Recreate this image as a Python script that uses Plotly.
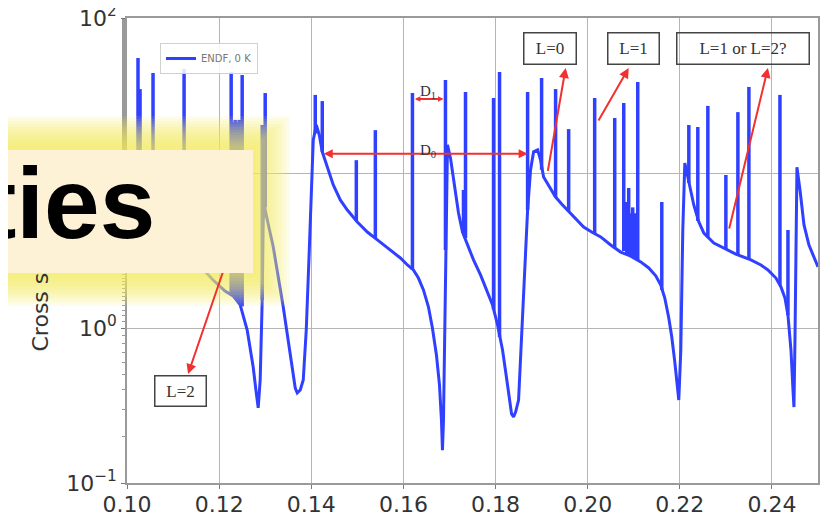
import math
import plotly.graph_objects as go

# ---------------- data (energy in MeV, cross section in b) ----------------
base_energy = [0.1000, 0.10391, 0.10826, 0.11261, 0.11587, 0.11870, 0.12130, 0.12304, 0.12457,
               0.12609, 0.12739, 0.12804, 0.12848, 0.12891, 0.12935, 0.12957, 0.12978, 0.13022,
               0.13174, 0.13391, 0.13543, 0.13652, 0.13696, 0.13761, 0.13826, 0.13891, 0.13957,
               0.14000, 0.14043, 0.14109, 0.14174, 0.14239, 0.14348, 0.14478, 0.14630, 0.14783,
               0.15000, 0.15217, 0.15435, 0.15717, 0.15935, 0.16087, 0.16217, 0.16326, 0.16435,
               0.16543, 0.16630, 0.16717, 0.16783, 0.16826, 0.16848, 0.16870, 0.16891, 0.16913,
               0.16935, 0.16957, 0.17022, 0.17109, 0.17196, 0.17283, 0.17413, 0.17522, 0.17674,
               0.17826, 0.17935, 0.18043, 0.18152, 0.18239, 0.18304, 0.18348, 0.18391, 0.18435,
               0.18500, 0.18565, 0.18630, 0.18696, 0.18761, 0.18826, 0.18913, 0.18978, 0.19043,
               0.19174, 0.19304, 0.19435, 0.19565, 0.19739, 0.19913, 0.20087, 0.20283, 0.20500,
               0.20717, 0.20935, 0.21152, 0.21326, 0.21478, 0.21587, 0.21674, 0.21761, 0.21826,
               0.21891, 0.21935, 0.21978, 0.22022, 0.22065, 0.22109, 0.22196, 0.22304, 0.22413,
               0.22522, 0.22739, 0.22957, 0.23217, 0.23543, 0.23761, 0.23913, 0.24087, 0.24196,
               0.24283, 0.24348, 0.24413, 0.24457, 0.24478, 0.24500, 0.24522, 0.24543, 0.24609,
               0.24696, 0.24804, 0.24913, 0.25000]
base_xs = [8.37, 6.22, 4.42, 3.09, 2.51, 2.04, 1.73, 1.61, 1.41,
           0.971, 0.560, 0.386, 0.305, 0.462, 1.52, 4.83, 6.22, 5.36,
           3.33, 1.37, 0.690, 0.410, 0.381, 0.398, 0.462, 0.971, 3.19,
           7.77, 16.3, 20.4, 17.6, 13.7, 10.8, 8.37, 6.70, 5.77,
           4.83, 4.16, 3.70, 3.19, 2.83, 2.55, 2.37, 2.10, 1.76,
           1.37, 1.00, 0.670, 0.429, 0.255, 0.163, 0.255, 0.721, 3.19,
           9.01, 15.2, 12.5, 8.37, 5.52, 4.16, 3.28, 2.75, 2.20,
           1.71, 1.41, 1.05, 0.721, 0.476, 0.343, 0.279, 0.267, 0.287,
           0.343, 0.837, 2.37, 5.77, 10.5, 13.7, 14.1, 12.1, 9.42,
           8.12, 7.00, 6.31, 5.77, 5.13, 4.48, 4.16, 3.87, 3.43,
           3.09, 2.91, 2.67, 2.44, 2.17, 1.89, 1.56, 1.16, 0.875,
           0.604, 0.429, 0.343, 0.721, 4.29, 11.6, 8.62, 6.22, 4.83,
           4.10, 3.53, 3.28, 3.00, 2.75, 2.55, 2.37, 2.10, 1.84,
           1.56, 1.21, 0.721, 0.398, 0.309, 0.837, 4.29, 10.9, 7.77,
           4.62, 3.43, 2.83, 2.48]

spike_energy = [0.10239, 0.10283, 0.10565, 0.11239, 0.12261, 0.12304, 0.12348, 0.12391, 0.12435,
                0.12500, 0.12935, 0.13000, 0.14087, 0.14239, 0.14978, 0.15391, 0.16196, 0.16913,
                0.17304, 0.17348, 0.17957, 0.18087, 0.18696, 0.19000, 0.19304, 0.19587, 0.20152,
                0.20587, 0.20783, 0.20848, 0.20891, 0.20935, 0.20978, 0.21022, 0.21087, 0.21609,
                0.22196, 0.22391, 0.22609, 0.23000, 0.23261, 0.23500, 0.24174, 0.24348]
spike_peak = [55.2, 34.8, 44.2, 46.9, 44.8, 21.3, 22.0, 21.3, 22.0,
              42.9, 20.4, 32.8, 31.9, 29.1, 12.1, 18.9, 32.8, 39.8,
              7.77, 33.3, 30.5, 44.8, 33.3, 41.0, 34.8, 19.2, 30.5,
              22.6, 28.3, 6.5, 8.0, 5.5, 6.0, 5.5, 38.6, 6.50,
              20.4, 19.8, 27.1, 9.71, 24.7, 35.9, 31.9, 4.29]
spike_foot = [6.70, 6.70, 5.36, 3.19, 1.66, 1.61, 1.55, 1.50, 1.45,
              1.38, 1.52, 6.0, 18.0, 13.7, 4.90, 3.81, 2.37, 3.19,
              4.10, 3.81, 1.31, 0.875, 5.77, 10.5, 7.00, 5.69, 4.04,
              3.28, 3.14, 3.00, 2.96, 2.91, 2.83, 2.79, 2.71, 1.76,
              8.62, 4.90, 3.81, 3.23, 2.96, 2.79, 1.89, 1.21]

x_ticks = [0.10, 0.12, 0.14, 0.16, 0.18, 0.20, 0.22, 0.24]
y_tick_vals = [0.1, 1, 10, 100]
y_tick_text = ["10<sup>\u22121</sup>", "10<sup>0</sup>", "10<sup>1</sup>", "10<sup>2</sup>"]

label_text = ["L=0", "L=1", "L=1 or L=2?"]
arrow_head_E = [0.19522, 0.20891, 0.23913]
arrow_head_s = [47.6, 47.6, 47.6]
arrow_tail_E = [0.19130, 0.20217, 0.23065]
arrow_tail_s = [10.1, 21.3, 4.29]
l2_head = (0.11326, 0.505)
l2_tail = (0.12283, 3.43)
d0_span = (0.14239, 0.18696, 13.3)
d1_span = (0.16217, 0.16870, 30.0)

# ---------------- layout geometry ----------------
# the page body adds an 8 px offset, so the figure is sized to land the
# plot area on page pixels x 127..818, y 18..483
OFF = 8
W, H = 825, 504
L, R, T, B = 119, 15, 10, 29
PW, PH = W - L - R, H - T - B
PX0, PY1 = L + OFF, H - B + OFF


def px(xp):
    return (xp - PX0) / PW


def py(yp):
    return (PY1 - yp) / PH


BLUE = "#3040ff"
RED = "#f23030"

sx, sy = [], []
for e, p, f in zip(spike_energy, spike_peak, spike_foot):
    sx += [e, e, None]
    sy += [f, p, None]

fig = go.Figure()
fig.add_trace(go.Scatter(x=base_energy, y=base_xs, mode="lines", name="ENDF, 0 K",
                         line=dict(color=BLUE, width=3)))
fig.add_trace(go.Scatter(x=sx, y=sy, mode="lines", showlegend=False,
                         line=dict(color=BLUE, width=3.5)))

annotations = []
annotations.append(dict(text="Cross section (b)", xref="paper", yref="paper",
                        x=px(40), y=py(354), xanchor="center", yanchor="bottom",
                        textangle=-90, showarrow=False,
                        font=dict(family="DejaVu Sans", size=22, color="#333")))
annotations.append(dict(x=l2_head[0], y=math.log10(l2_head[1]), ax=l2_tail[0],
                        ay=math.log10(l2_tail[1]), axref="x", ayref="y", xref="x", yref="y",
                        text="", showarrow=True, arrowhead=2, arrowsize=1, arrowwidth=2,
                        arrowcolor=RED, standoff=0, startstandoff=0))
for he, hs, te, ts in zip(arrow_head_E, arrow_head_s, arrow_tail_E, arrow_tail_s):
    annotations.append(dict(x=he, y=math.log10(hs), ax=te, ay=math.log10(ts),
                            axref="x", ayref="y", xref="x", yref="y", text="",
                            showarrow=True, arrowhead=2, arrowsize=1, arrowwidth=2,
                            arrowcolor=RED, standoff=0, startstandoff=0))
for (e0, e1, s), hs in zip([d0_span, d1_span], [0.9, 0.55]):
    annotations.append(dict(x=e1, y=math.log10(s), ax=e0, ay=math.log10(s),
                            axref="x", ayref="y", xref="x", yref="y", text="",
                            showarrow=True, arrowhead=2, arrowside="end+start",
                            arrowsize=hs, arrowwidth=2, arrowcolor=RED,
                            standoff=0, startstandoff=0))
annotations.append(dict(text="D<sub>1</sub>", xref="paper", yref="paper", x=px(428), y=py(81),
                        showarrow=False, font=dict(family="Liberation Serif", size=15, color="#333")))
annotations.append(dict(text="D<sub>0</sub>", xref="paper", yref="paper", x=px(428), y=py(140),
                        showarrow=False, font=dict(family="Liberation Serif", size=15, color="#333")))
box_geo = [(550, 48.5, 47, 26), (633.5, 48.5, 46, 26), (743, 48.5, 127, 26)]
for t, (cx, cy, w, h) in zip(label_text, box_geo):
    annotations.append(dict(text=t, xref="paper", yref="paper", x=px(cx), y=py(cy),
                            xanchor="center", yanchor="middle", showarrow=False,
                            width=w, height=h, borderpad=2, borderwidth=1.5,
                            bordercolor="#444",
                            font=dict(family="Liberation Serif", size=17, color="#333")))
annotations.append(dict(text="L=2", xref="paper", yref="paper", x=px(180.5), y=py(391),
                        xanchor="center", yanchor="middle", showarrow=False,
                        width=46, height=25, borderpad=2, borderwidth=1.5, bordercolor="#444",
                        bgcolor="white",
                        font=dict(family="Liberation Serif", size=17, color="#333")))
# banner
annotations.append(dict(text="\u00a0", xref="paper", yref="paper", x=px(116.5), y=py(211.5),
                        xanchor="center", yanchor="middle", showarrow=False,
                        width=273, height=123, borderpad=0, borderwidth=0,
                        bgcolor="#fdf2d6"))
annotations.append(dict(text="ties", xref="paper", yref="paper", x=px(157), y=py(203),
                        xanchor="right", yanchor="middle", showarrow=False,
                        font=dict(family="Liberation Sans Narrow, Liberation Sans, Arial",
                                  size=100, color="black", weight="bold")))

# soft yellow glow around the banner
shapes = []
n_glow = 12
for i in range(n_glow):
    k = i / (n_glow - 1)
    y0 = 116 + 30 * k
    y1 = 306 - 30 * k
    x1 = 290 - 34 * k
    shapes.append(dict(type="rect", xref="paper", yref="paper", layer="above",
                       x0=px(-30), x1=px(x1), y0=py(y1), y1=py(y0),
                       line=dict(width=0), fillcolor="rgba(250,240,90,0.11)"))

axis_font = dict(family="DejaVu Sans", size=22, color="#333")
fig.update_layout(
    template="none",
    width=W, height=H, margin=dict(l=L, r=R, t=T, b=B, pad=0, autoexpand=False),
    paper_bgcolor="white", plot_bgcolor="white",
    showlegend=True,
    legend=dict(x=px(160), y=py(43), xanchor="left", yanchor="top",
                bgcolor="rgba(255,255,255,0.85)", bordercolor="#d0d0d0", borderwidth=1,
                font=dict(family="DejaVu Sans", size=10, color="#777"),
                itemwidth=30, tracegroupgap=0),
    xaxis=dict(range=[0.10, 0.25], tickvals=x_ticks, tickformat=".2f", automargin=False,
               showgrid=True, gridcolor="#b5b5b5", gridwidth=1,
               showline=True, mirror=True, linecolor="#9a9a9a", linewidth=1.5,
               ticks="outside", ticklen=4, tickcolor="#777", tickfont=axis_font,
               ticklabeloverflow="allow", ticklabelstandoff=-3,
               zeroline=False),
    yaxis=dict(type="log", range=[-1, 2], tickvals=y_tick_vals, ticktext=y_tick_text,
               automargin=False, ticklabeloverflow="allow",
               showgrid=True, gridcolor="#b5b5b5", gridwidth=1,
               showline=True, mirror=True, linecolor="#9a9a9a", linewidth=1.5,
               ticks="outside", ticklen=4, tickcolor="#777", tickfont=axis_font,
               minor=dict(ticks="outside", ticklen=3, tickcolor="#999", showgrid=False),
               zeroline=False),
    annotations=annotations,
    shapes=shapes,
)

fig.write_html("out.html")
